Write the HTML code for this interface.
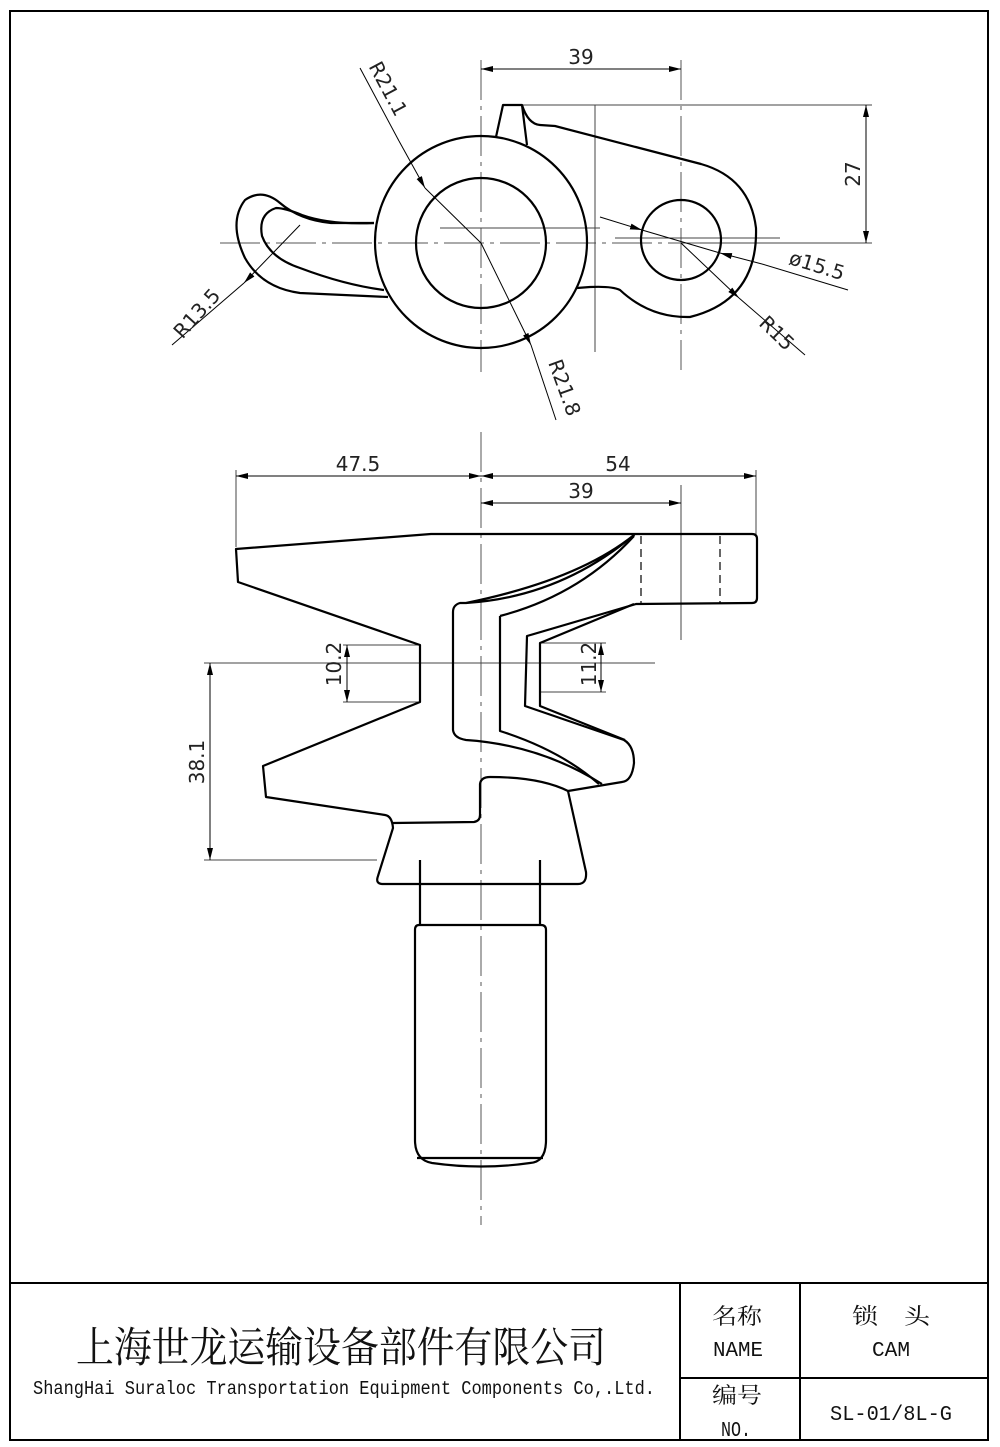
<!DOCTYPE html>
<html><head><meta charset="utf-8"><style>
html,body{margin:0;padding:0;background:#fff;}
svg{display:block;}
</style></head><body>
<svg width="1000" height="1447" viewBox="0 0 1000 1447" xmlns="http://www.w3.org/2000/svg">
<defs>
<marker id="a" viewBox="0 0 12 6" refX="12" refY="3" markerWidth="12" markerHeight="6" orient="auto-start-reverse" markerUnits="userSpaceOnUse"><path d="M0,0 L12,3 L0,6 z" fill="#000"/></marker>
</defs>
<rect x="0" y="0" width="1000" height="1447" fill="#fff"/>
<rect x="10" y="11" width="978" height="1429" fill="none" stroke="#000" stroke-width="2"/>
<line x1="10" y1="1283" x2="988" y2="1283" stroke="#000" stroke-width="2"/>
<line x1="680" y1="1283" x2="680" y2="1440" stroke="#000" stroke-width="2"/>
<line x1="800" y1="1283" x2="800" y2="1440" stroke="#000" stroke-width="2"/>
<line x1="680" y1="1378" x2="988" y2="1378" stroke="#000" stroke-width="2"/>
<g font-family="'Noto Serif CJK SC','Liberation Serif',serif" fill="#111">
<text x="76" y="1362" font-size="42" textLength="530" lengthAdjust="spacingAndGlyphs">上海世龙运输设备部件有限公司</text>
<text x="712" y="1324" font-size="22" textLength="50" lengthAdjust="spacingAndGlyphs">名称</text>
<text x="852" y="1324" font-size="22" textLength="78" lengthAdjust="spacingAndGlyphs">锁　头</text>
<text x="712" y="1403" font-size="22" textLength="50" lengthAdjust="spacingAndGlyphs">编号</text>
</g>
<g font-family="'Liberation Mono',monospace" fill="#111">
<text x="33" y="1394" font-size="19" textLength="622" lengthAdjust="spacingAndGlyphs">ShangHai Suraloc Transportation Equipment Components Co,.Ltd.</text>
<text x="713" y="1356" font-size="21" textLength="50" lengthAdjust="spacingAndGlyphs">NAME</text>
<text x="872" y="1356" font-size="21" textLength="38" lengthAdjust="spacingAndGlyphs">CAM</text>
<text x="830" y="1420" font-size="21" textLength="122" lengthAdjust="spacingAndGlyphs">SL-01/8L-G</text>
<text x="721" y="1436" font-size="21" textLength="30" lengthAdjust="spacingAndGlyphs">NO.</text>
</g>

<g stroke="#555" stroke-width="1" fill="none" stroke-dasharray="40,6,4,6">
<line x1="481" y1="60" x2="481" y2="372"/>
<line x1="681" y1="60" x2="681" y2="370"/>
<line x1="220" y1="243" x2="780" y2="243"/>
<line x1="481" y1="432" x2="481" y2="1225"/>
</g>
<g stroke="#444" stroke-width="1" fill="none">
<line x1="595" y1="105" x2="595" y2="352"/>
<line x1="440" y1="228" x2="600" y2="228"/>
<line x1="615" y1="238" x2="780" y2="238"/>
<line x1="522" y1="105" x2="872" y2="105"/>
<line x1="700" y1="243" x2="872" y2="243"/>
<line x1="204" y1="663" x2="655" y2="663"/>
<line x1="204" y1="860" x2="377" y2="860"/>
<line x1="236" y1="470" x2="236" y2="547"/>
<line x1="756" y1="470" x2="756" y2="534"/>
<line x1="681" y1="485" x2="681" y2="640"/>
<line x1="343" y1="645" x2="420" y2="645"/>
<line x1="343" y1="702" x2="420" y2="702"/>
<line x1="540" y1="643" x2="606" y2="643"/>
<line x1="540" y1="692" x2="606" y2="692"/>
</g>
<g stroke="#000" stroke-width="1" fill="none">
<line x1="481" y1="69" x2="681" y2="69" marker-start="url(#a)" marker-end="url(#a)"/>
<line x1="866" y1="105" x2="866" y2="243" marker-start="url(#a)" marker-end="url(#a)"/>
<line x1="360" y1="68" x2="399" y2="141" />
<line x1="399" y1="141" x2="425" y2="188" marker-end="url(#a)"/>
<line x1="425" y1="188" x2="481" y2="243"/>
<line x1="481" y1="243" x2="531" y2="345" marker-end="url(#a)"/>
<line x1="531" y1="345" x2="556" y2="420"/>
<line x1="300" y1="225" x2="244" y2="283" marker-end="url(#a)"/>
<line x1="244" y1="283" x2="172" y2="345"/>
<line x1="600" y1="217" x2="642" y2="230" marker-end="url(#a)"/>
<line x1="642" y1="230" x2="720" y2="253"/>
<line x1="762" y1="264" x2="720" y2="253" marker-end="url(#a)"/>
<line x1="762" y1="264" x2="848" y2="290"/>
<line x1="681" y1="243" x2="739" y2="298" marker-end="url(#a)"/>
<line x1="739" y1="298" x2="805" y2="355"/>
<line x1="236" y1="476" x2="481" y2="476" marker-start="url(#a)" marker-end="url(#a)"/>
<line x1="481" y1="476" x2="756" y2="476" marker-start="url(#a)" marker-end="url(#a)"/>
<line x1="481" y1="503" x2="681" y2="503" marker-start="url(#a)" marker-end="url(#a)"/>
<line x1="210" y1="663" x2="210" y2="860" marker-start="url(#a)" marker-end="url(#a)"/>
<line x1="347" y1="645" x2="347" y2="702" marker-start="url(#a)" marker-end="url(#a)"/>
<line x1="601" y1="643" x2="601" y2="692" marker-start="url(#a)" marker-end="url(#a)"/>
</g>
<g font-family="'DejaVu Sans','Liberation Sans',sans-serif" font-size="20" fill="#222">
<text x="581" y="64" text-anchor="middle">39</text>
<text transform="translate(860,174) rotate(-90)" text-anchor="middle">27</text>
<text transform="translate(382,92) rotate(62)" text-anchor="middle">R21.1</text>
<text transform="translate(558,390) rotate(70)" text-anchor="middle">R21.8</text>
<text transform="translate(202,318) rotate(-48)" text-anchor="middle">R13.5</text>
<text transform="translate(815,272) rotate(17)" text-anchor="middle">ø15.5</text>
<text transform="translate(772,338) rotate(44)" text-anchor="middle">R15</text>
<text x="358" y="471" text-anchor="middle">47.5</text>
<text x="618" y="471" text-anchor="middle">54</text>
<text x="581" y="498" text-anchor="middle">39</text>
<text transform="translate(204,762) rotate(-90)" text-anchor="middle">38.1</text>
<text transform="translate(341,664) rotate(-90)" text-anchor="middle">10.2</text>
<text transform="translate(596,664) rotate(-90)" text-anchor="middle">11.2</text>
</g>

<g stroke="#000" stroke-width="2.2" fill="none" stroke-linejoin="round">
<circle cx="481" cy="242" r="106"/>
<circle cx="481" cy="243" r="65"/>
<circle cx="681" cy="240" r="40"/>
<path d="M496,137 L503,105 L522,105 L527,145"/>
<path d="M522,105 Q528,124 540,125 L555,126 L701,164 Q750,178 756,228 Q758,300 690,317 Q650,318 620,290 Q612,286 590,287 L577,288"/>
<path d="M374,223 L331,223 Q300,220 280,203 Q262,188 245,200 Q228,222 245,258 Q262,288 300,293 L388,297"/>
<path d="M374,223 Q330,225 302,215 Q285,208 276,208 Q258,214 262,236 Q270,258 300,268 Q345,285 384,290"/>
</g>

<g stroke="#000" stroke-width="2.2" fill="none" stroke-linejoin="round">
<path d="M236,549 L431,534 L752,534 Q757,534 757,539 L757,598 Q757,603 752,603 L636,604 L527,636 L525,706 L624,740 Q634,746 634,763 Q632,781 622,782 L568,791 L586,872 Q587,884 578,884 L383,884 Q375,884 378,876 L393,828 Q392,816 385,815 L266,797 L263,766 L420,702 L420,645 L238,582 Z"/>
<path d="M393,823 L474,822 Q480,821 480,815 L480,784 Q481,777 490,777 Q540,777 568,791"/>
<path d="M466,603 Q560,597 634,535 Q578,580 466,603 L460,603 Q453,605 453,612 L453,730 Q454,738 466,740 Q540,745 602,784"/>
<path d="M500,616 Q580,595 634,536 M500,616 L500,731 Q560,750 599,784"/>
<path d="M634,604 L540,643 L540,706 L625,740"/>
<path d="M420,860 L420,925 M540,860 L540,925"/>
<path d="M419,925 L541,925 Q546,925 546,930 L546,1140 Q546,1162 530,1163 Q481,1170 432,1163 Q415,1160 415,1140 L415,930 Q415,925 419,925 Z"/>
<path d="M417,1158 L543,1158"/>
</g>
<g stroke="#000" stroke-width="1.2" stroke-dasharray="8,5" fill="none">
<line x1="641" y1="536" x2="641" y2="603"/>
<line x1="720" y1="536" x2="720" y2="603"/>
</g>
</svg>
</body></html>
